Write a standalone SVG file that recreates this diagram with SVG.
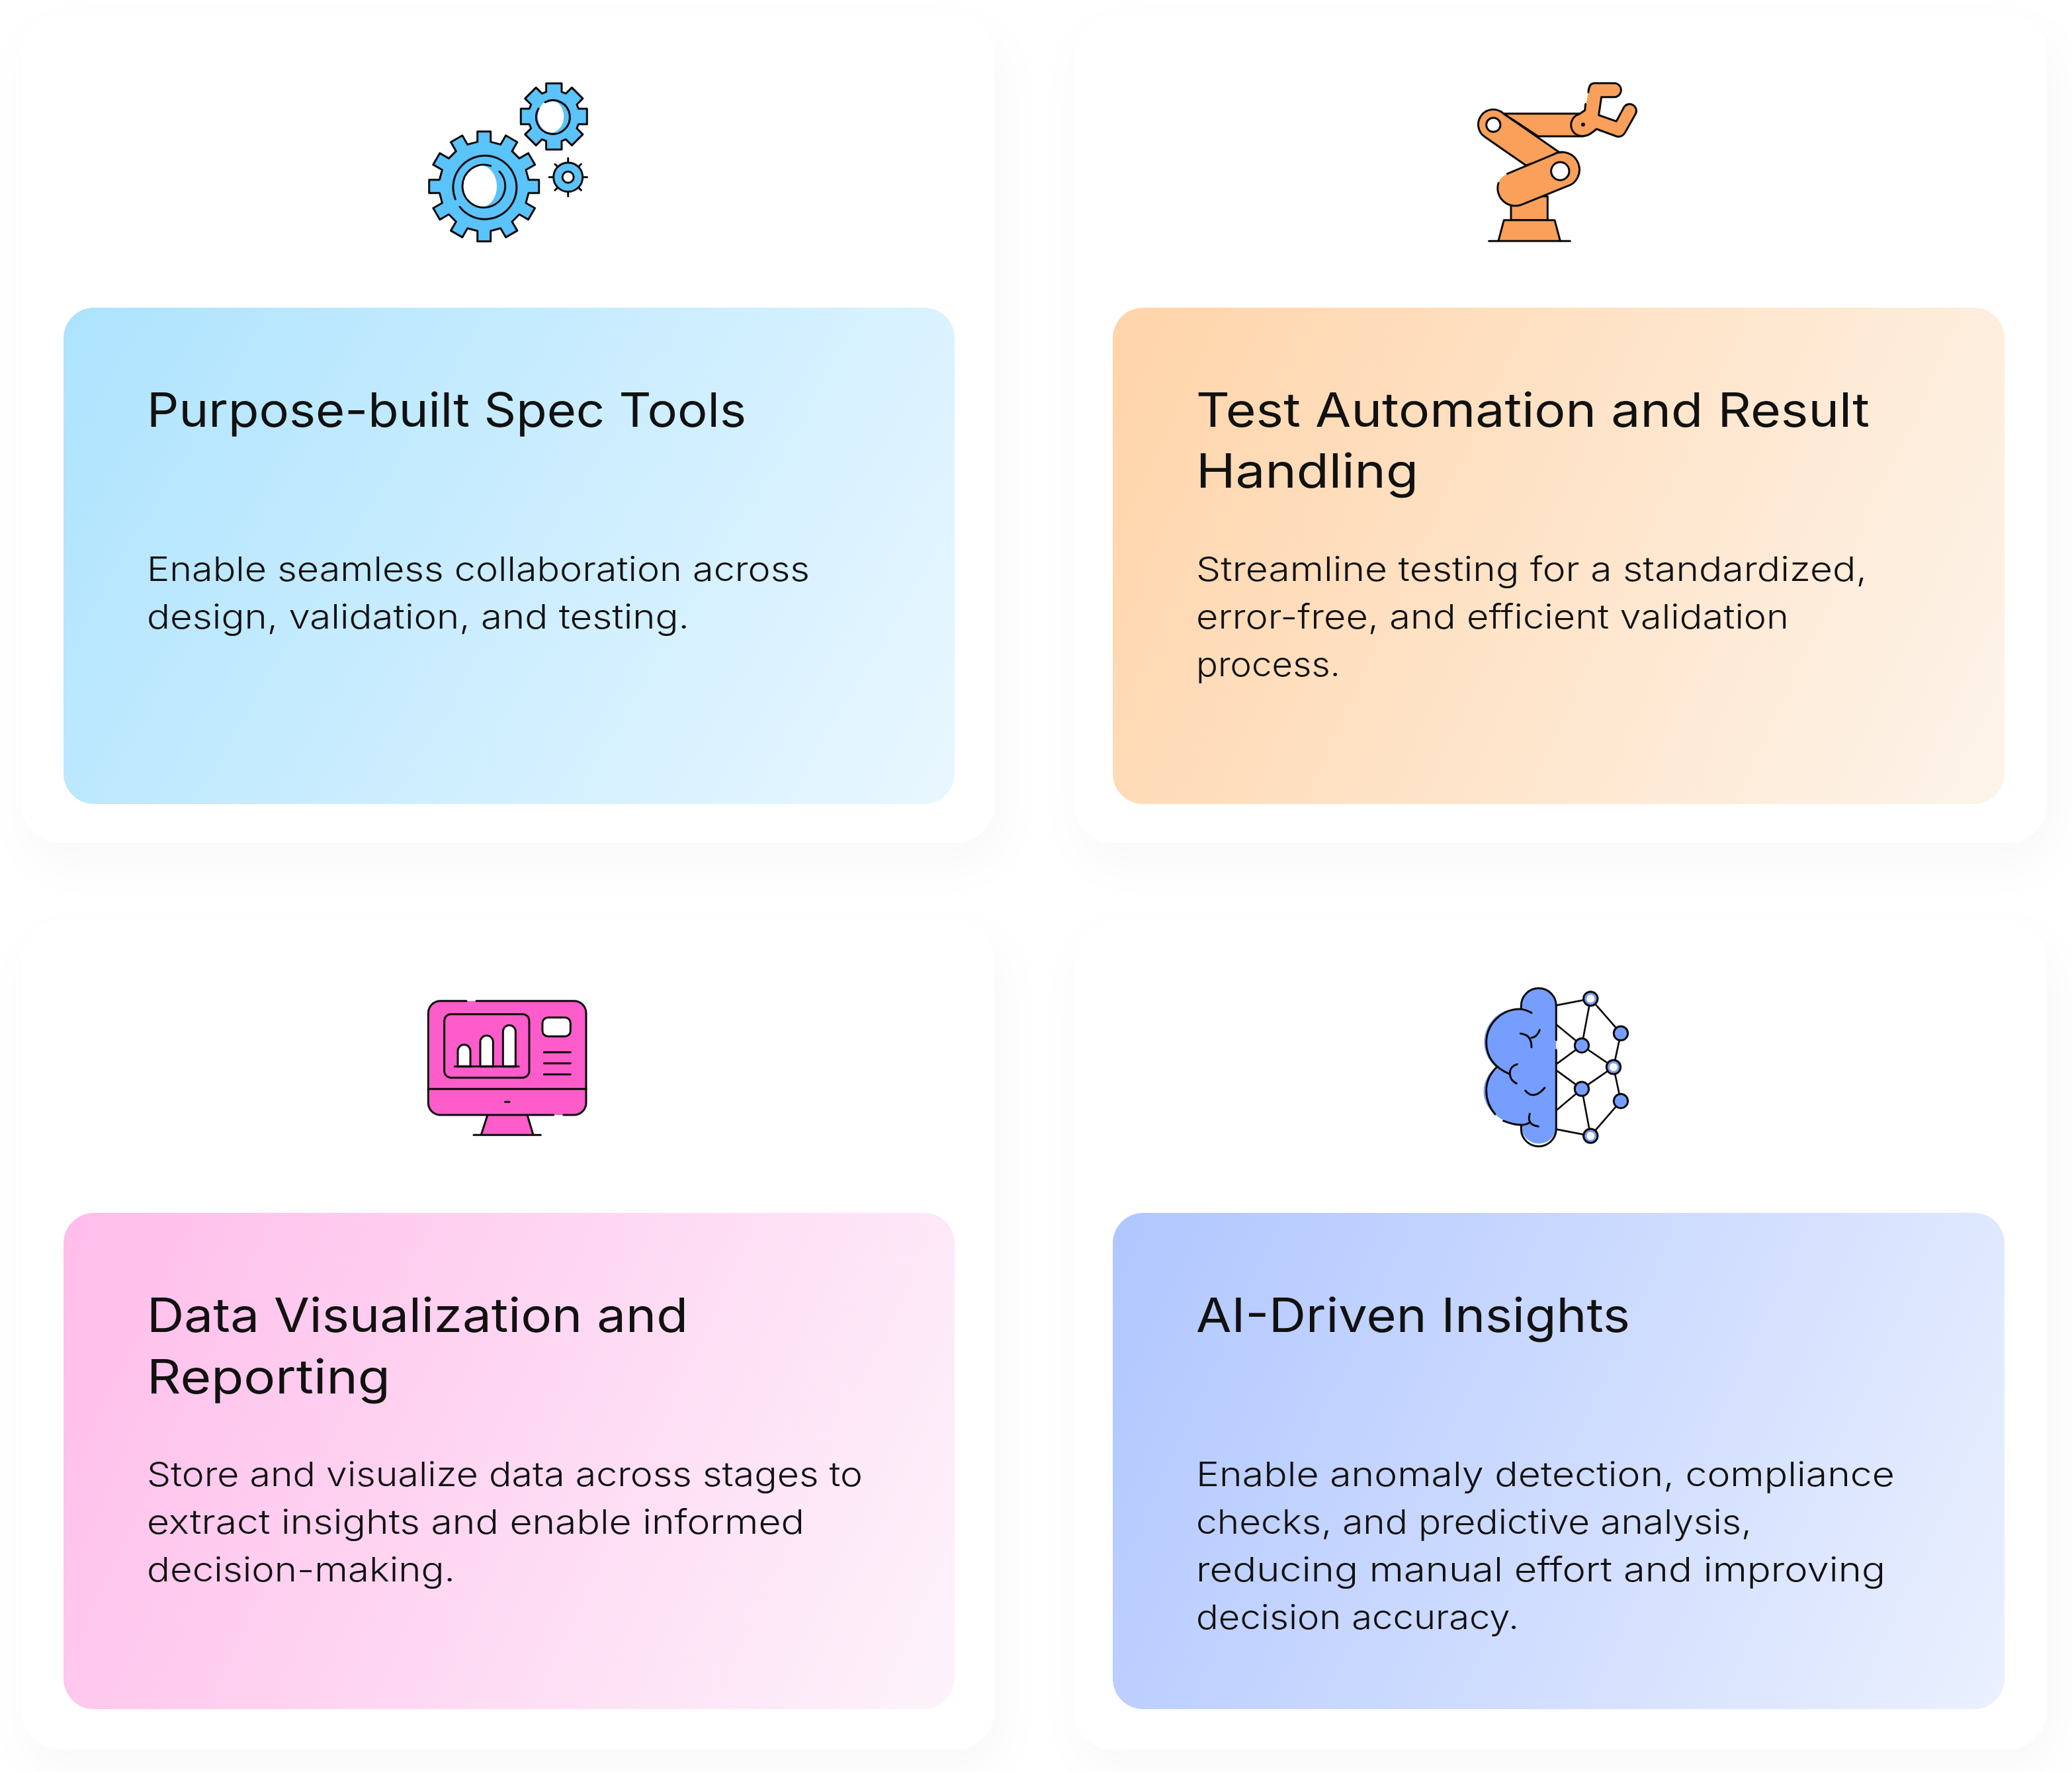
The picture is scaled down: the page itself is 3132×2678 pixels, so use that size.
<svg xmlns="http://www.w3.org/2000/svg" width="3132" height="2678" viewBox="0 0 3132 2678">
<style>
.t{font-family:"Inter","Liberation Sans",sans-serif;fill:#111;}
.h{font-size:71px;font-weight:400;}
.b{font-size:51px;font-weight:300;}
.o{fill:#fff;filter:url(#sh);}
.s{fill:none;stroke:#0a0a0a;stroke-linecap:round;stroke-linejoin:round;}
.i3{stroke-width:9;}
.n{fill:none;stroke:#0a0a0a;stroke-width:8;stroke-linecap:round;}
</style>
<defs>
<filter id="sh" x="-10%" y="-10%" width="125%" height="130%"><feDropShadow dx="10" dy="30" stdDeviation="34" flood-color="#000" flood-opacity=".026"/></filter>
<linearGradient id="gb" x1="0" y1="0" x2="1.2" y2=".4"><stop offset="0" stop-color="#ADE3FE"/><stop offset="1" stop-color="#E9F7FF"/></linearGradient>
<linearGradient id="go" x1="0" y1="0" x2="1.17" y2=".3"><stop offset="0" stop-color="#FFD4A9"/><stop offset="1" stop-color="#FDF4EA"/></linearGradient>
<linearGradient id="gp" x1="0" y1="0" x2="1.17" y2=".3"><stop offset="0" stop-color="#FFBCEA"/><stop offset="1" stop-color="#FDF3FB"/></linearGradient>
<linearGradient id="gi" x1="0" y1="0" x2="1.17" y2=".3"><stop offset="0" stop-color="#B0C6FF"/><stop offset="1" stop-color="#EAF0FE"/></linearGradient>
</defs>
<rect width="3132" height="2678" fill="#fff"/>
<g id="node-spec-tools">
<rect class="o" x="32" y="23" width="1471" height="1251" rx="60"/>
<rect x="96" y="465" width="1347" height="750" rx="46" fill="url(#gb)"/>
<g id="icon-gears">
<g transform="translate(731.7 281.7)">
<path fill="#5AC3FA" stroke="#0a0a0a" stroke-width="3" stroke-linejoin="round" d="M-10,-67.3 L-10,-83 L10,-83 L10,-67.3 L24.99,-63.28 L32.84,-76.88 L50.16,-66.88 L42.31,-53.28 L53.28,-42.31 L66.88,-50.16 L76.88,-32.84 L63.28,-24.99 L67.3,-10 L83,-10 L83,10 L67.3,10 L63.28,24.99 L76.88,32.84 L66.88,50.16 L53.28,42.31 L42.31,53.28 L50.16,66.88 L32.84,76.88 L24.99,63.28 L10,67.3 L10,83 L-10,83 L-10,67.3 L-24.99,63.28 L-32.84,76.88 L-50.16,66.88 L-42.31,53.28 L-53.28,42.31 L-66.88,50.16 L-76.88,32.84 L-63.28,24.99 L-67.3,10 L-83,10 L-83,-10 L-67.3,-10 L-63.28,-24.99 L-76.88,-32.84 L-66.88,-50.16 L-53.28,-42.31 L-42.31,-53.28 L-50.16,-66.88 L-32.84,-76.88 L-24.99,-63.28 Z"/>
<ellipse cx="-6.2" cy="0" rx="25.5" ry="32" fill="#fff"/>
</g>
<path class="s" stroke-width="3" d="M695,312.7 A48 48 0 1 0 688.3,301"/>
<path class="s" stroke-width="3" d="M755,259.3 A32.3 32.3 0 1 1 741.7,250.7"/>
<g transform="translate(837.3 176)">
<path fill="#5AC3FA" stroke="#0a0a0a" stroke-width="3" stroke-linejoin="round" d="M-11.7,-37.2 L-11.7,-50 L11.7,-50 L11.7,-37.2 L18.03,-34.57 L27.08,-43.62 L43.62,-27.08 L34.57,-18.03 L37.2,-11.7 L50,-11.7 L50,11.7 L37.2,11.7 L34.57,18.03 L43.62,27.08 L27.08,43.62 L18.03,34.57 L11.7,37.2 L11.7,50 L-11.7,50 L-11.7,37.2 L-18.03,34.57 L-27.08,43.62 L-43.62,27.08 L-34.57,18.03 L-37.2,11.7 L-50,11.7 L-50,-11.7 L-37.2,-11.7 L-34.57,-18.03 L-43.62,-27.08 L-27.08,-43.62 L-18.03,-34.57 Z"/>
<ellipse cx="-4.6" cy="0" rx="19.5" ry="24.5" fill="#fff"/>
</g>
<path class="s" stroke-width="3" d="M824,154.5 A25.5 25.5 0 1 1 814,164"/>
<circle cx="858.7" cy="267.7" r="22" fill="#5AC3FA" stroke="#0a0a0a" stroke-width="3"/>
<circle cx="858.7" cy="267.7" r="8.5" fill="#fff" stroke="#0a0a0a" stroke-width="3"/>
<path class="s" stroke-width="3" d="M858.7,245.7V239M858.7,289.7V296.5M836.7,267.7H830M880.7,267.7H887.5M843,252L839,248M874.4,252L878.4,248M843,283.4L839,287.4M874.4,283.4L878.4,287.4"/>
</g>
<text class="t h" x="222" y="645" textLength="906" lengthAdjust="spacingAndGlyphs">Purpose-built Spec Tools</text>
<text class="t b" x="222" y="878" textLength="1002" lengthAdjust="spacingAndGlyphs">Enable seamless collaboration across</text>
<text class="t b" x="222" y="950" textLength="820" lengthAdjust="spacingAndGlyphs">design, validation, and testing.</text>
</g>
<g id="node-test-automation">
<rect class="o" x="1623" y="23" width="1471" height="1251" rx="60"/>
<rect x="1682" y="465" width="1348" height="750" rx="46" fill="url(#go)"/>
<g id="icon-robot" transform="translate(2210 100) scale(.3333)">
<g fill="#FBA05A" stroke="#0a0a0a" stroke-width="9" stroke-linejoin="round" stroke-linecap="round">
<path d="M222,590 H388 V698 H222Z"/>
<path d="M165,792 L190,698 H420 L445,792"/>
<path d="M188,215 H545 V318 H345Z"/>
<path d="M188,215 L450,397 L290,450 L105,322 A68,68 0 1 1 188,215Z"/>
<path stroke="none" d="M205,488 L415,400 A79,79 0 1 1 475,545 L270,628 A80,80 0 0 1 165,530 Q170,505 205,488Z"/>
<path fill="none" d="M205,488 L415,400 A79,79 0 1 1 475,545 L270,628 A80,80 0 0 1 165,530"/>
<path stroke="none" d="M573,118 Q575,77 600,77 H695 A32,32 0 0 1 695,140 H632 L620,222 L700,250 L735,185 A30,30 0 0 1 785,220 L740,300 Q725,325 700,318 L610,285 Q575,315 560,315 A50,50 0 0 1 530,218 L557,200Z"/>
<path fill="none" d="M573,118 Q575,77 600,77 H695 A32,32 0 0 1 695,140 H632 L620,222 L700,250 L735,185 A30,30 0 0 1 785,220 L740,300 Q725,325 700,318 L610,285 Q575,315 560,315 A50,50 0 0 1 530,218 L557,200 L560,172"/>
<path fill="none" d="M122,793 H490"/>
<circle cx="142" cy="266" r="32" fill="#fff"/>
<circle cx="445" cy="476" r="41" fill="#fff"/>
</g>
<circle cx="549" cy="265" r="9" fill="#0a0a0a"/>
</g>
<text class="t h" x="1808" y="645" textLength="1018" lengthAdjust="spacingAndGlyphs">Test Automation and Result</text>
<text class="t h" x="1808" y="737" textLength="336" lengthAdjust="spacingAndGlyphs">Handling</text>
<text class="t b" x="1808" y="878" textLength="1014" lengthAdjust="spacingAndGlyphs">Streamline testing for a standardized,</text>
<text class="t b" x="1808" y="950" textLength="896" lengthAdjust="spacingAndGlyphs">error-free, and efficient validation</text>
<text class="t b" x="1808" y="1022" textLength="218" lengthAdjust="spacingAndGlyphs">process.</text>
</g>
<g id="node-data-viz">
<rect class="o" x="32" y="1393" width="1471" height="1251" rx="60"/>
<rect x="96" y="1833" width="1347" height="750" rx="46" fill="url(#gp)"/>
<g id="icon-monitor" transform="translate(620 1490) scale(.3333)">
<path fill="#FF5CCB" d="M350,585 L322,675 H558 L532,585Z"/>
<rect x="82" y="68" width="716" height="517" rx="55" fill="#FF5CCB"/>
<g class="s i3">
<path d="M255,68 H137 A55,55 0 0 0 82,123 V530 A55,55 0 0 0 137,585 H650"/>
<path d="M300,68 H743 A55,55 0 0 1 798,123 V530 A55,55 0 0 1 743,585 H695"/>
<path d="M82,467 H798"/>
<path d="M431,526 H450"/>
<path d="M350,588 L322,675 M532,588 L558,675 M288,676 H592"/>
<rect x="155" y="128" width="385" height="288" rx="30"/>
<path fill="#fff" d="M216,365 V295 A28.500,28.500 0 0 1 273,295 V365Z"/>
<path fill="#fff" d="M318,365 V254 A29,29 0 0 1 376,254 V365Z"/>
<path fill="#fff" d="M421,365 V207 A28.500,28.500 0 0 1 478,207 V365Z"/>
<path d="M202,365 H492"/>
<rect x="600" y="143" width="127" height="86" rx="25" fill="#fff"/>
<path d="M607,301 H727 M607,351 H727 M607,401 H727"/>
</g>
</g>
<text class="t h" x="222" y="2013" textLength="818" lengthAdjust="spacingAndGlyphs">Data Visualization and</text>
<text class="t h" x="222" y="2106" textLength="368" lengthAdjust="spacingAndGlyphs">Reporting</text>
<text class="t b" x="222" y="2246" textLength="1082" lengthAdjust="spacingAndGlyphs">Store and visualize data across stages to</text>
<text class="t b" x="222" y="2318" textLength="994" lengthAdjust="spacingAndGlyphs">extract insights and enable informed</text>
<text class="t b" x="222" y="2390" textLength="466" lengthAdjust="spacingAndGlyphs">decision-making.</text>
</g>
<g id="node-ai-insights">
<rect class="o" x="1623" y="1393" width="1471" height="1251" rx="60"/>
<rect x="1682" y="1833" width="1348" height="750" rx="46" fill="url(#gi)"/>
<g id="icon-brain" transform="translate(2220 1480) scale(.3333)">
<path fill="#769EFF" d="M397,120 A79.500,79.500 0 0 0 238,120 V135 A150,150 0 0 0 125,400 A130,130 0 0 0 120,612 Q170,660 240,660 V678 A79.500,79.500 0 0 0 397,678Z"/>
<g class="n" stroke-width="7">
<path d="M397,118L553,88M553,88L513,300M553,88L690,245M690,245L657,398M397,205L513,300M397,385L513,300M513,300L657,398M397,412L513,497M397,595L513,497M513,497L657,398M657,398L690,552M513,497L553,710M690,552L553,710M397,680L553,710"/>
</g>
<g class="s i3">
<path d="M397,275 V120 A79.500,79.500 0 0 0 238,120 V132"/>
<path d="M397,320 V678 A79.500,79.500 0 0 1 238,678 V662"/>
<path d="M285,152 Q255,135 230,135 A152,152 0 0 0 80,285 Q80,385 187,430"/>
<path d="M125,400 Q80,445 80,505 Q80,565 120,612"/>
<path d="M158,642 Q200,660 240,660 Q260,660 275,650"/>
<path d="M235,246 Q285,250 285,308 M322,230 Q310,262 285,265"/>
<path d="M220,385 Q185,395 187,430 Q190,460 217,472"/>
<path d="M257,505 Q295,550 345,492"/>
<path d="M277,610 Q262,660 316,667"/>
<g fill="#769EFF">
<circle cx="513" cy="300" r="32"/><circle cx="513" cy="497" r="32"/><circle cx="690" cy="245" r="32"/><circle cx="690" cy="552" r="32"/>
<circle cx="553" cy="88" r="32"/><circle cx="657" cy="398" r="32"/><circle cx="553" cy="710" r="32"/>
</g>
</g>
<g fill="#fff"><circle cx="553" cy="88" r="18"/><circle cx="657" cy="398" r="18"/><circle cx="553" cy="710" r="18"/></g>
</g>
<text class="t h" x="1808" y="2013" textLength="656" lengthAdjust="spacingAndGlyphs">AI-Driven Insights</text>
<text class="t b" x="1808" y="2246" textLength="1056" lengthAdjust="spacingAndGlyphs">Enable anomaly detection, compliance</text>
<text class="t b" x="1808" y="2318" textLength="840" lengthAdjust="spacingAndGlyphs">checks, and predictive analysis,</text>
<text class="t b" x="1808" y="2390" textLength="1042" lengthAdjust="spacingAndGlyphs">reducing manual effort and improving</text>
<text class="t b" x="1808" y="2462" textLength="488" lengthAdjust="spacingAndGlyphs">decision accuracy.</text>
</g>
<g id="connectors"></g>
</svg>
